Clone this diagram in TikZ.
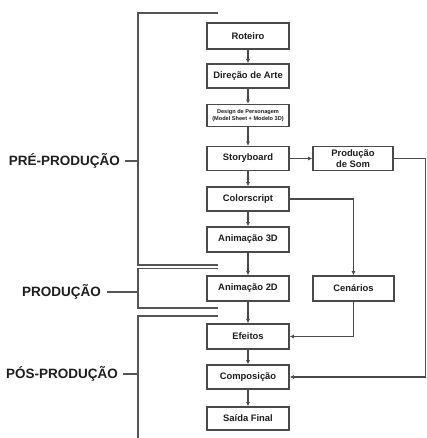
\documentclass[tikz,border=0pt]{standalone}
\usepackage{fontspec}
\setmainfont{Liberation Sans}
\usetikzlibrary{arrows.meta}
\definecolor{boxline}{HTML}{4A4A4A}
\definecolor{brk}{HTML}{555555}
\definecolor{txt}{HTML}{1E1E1E}
\tikzset{
  stage/.style={draw=boxline, line width=1.6pt, fill=white, text=txt,
    font=\fontsize{9.4}{11}\selectfont\bfseries, align=center,
    minimum width=82pt, minimum height=24pt, inner sep=1pt},
  flow/.style={draw=boxline, line width=1.3pt, -{Latex[length=4pt,width=4pt]}},
  bracket/.style={draw=brk, line width=1.8pt},
  phase/.style={text=txt, font=\fontsize{13.5}{15}\selectfont\bfseries, anchor=east, inner sep=0pt}
}
\begin{document}
\begin{tikzpicture}[x=1pt,y=-1pt]
\useasboundingbox[fill=white] (0,0) rectangle (427,438);
% main column
\node[stage, minimum height=26pt] (rot) at (248,36) {Roteiro};
\node[stage] (dir) at (248,76) {Direção de Arte};
\node[stage, minimum height=22pt, font=\fontsize{5.6}{6.6}\selectfont\bfseries] (des) at (248,115.5) {Design de Personagem\\(Model Sheet + Modelo 3D)};
\node[stage] (sto) at (248,158.5) {Storyboard};
\node[stage] (col) at (248,199) {Colorscript};
\node[stage, minimum height=25pt] (a3d) at (248,239.5) {Animação 3D};
\node[stage, minimum height=25pt] (a2d) at (248,288.5) {Animação 2D};
\node[stage, minimum height=25pt] (efe) at (248,336.5) {Efeitos};
\node[stage] (com) at (248,377) {Composição};
\node[stage, minimum height=23pt] (sai) at (248,418.5) {Saída Final};
% side column
\node[stage, minimum width=80pt] (som) at (353,158.5) {Produção\\de Som};
\node[stage, minimum width=81pt, minimum height=25pt] (cen) at (353.5,288.5) {Cenários};
% flow
\draw[flow] (rot) -- (dir);
\draw[flow] (dir) -- (des);
\draw[flow] (des) -- (sto);
\draw[flow] (sto) -- (col);
\draw[flow] (col) -- (a3d);
\draw[flow] (a3d) -- (a2d);
\draw[flow] (a2d) -- (efe);
\draw[flow] (efe) -- (com);
\draw[flow] (com) -- (sai);
\draw[flow] (sto) -- (som);
\draw[flow] (col.east) -| (cen.north);
\draw[flow] (cen.south) |- (efe.east);
\draw[flow] (som.east) -- ++(32,0) |- (com.east);
% phase brackets
\draw[bracket] (218,13) -- (138,13) -- (138,265) -- (218,265);
\draw[bracket] (218,268.5) -- (138,268.5) -- (138,308) -- (218,308);
\draw[bracket] (218,316) -- (138,316) -- (138,438);
\node[phase] (pre) at (120,161) {PRÉ-PRODUÇÃO};
\node[phase] (pro) at (101,292) {PRODUÇÃO};
\node[phase] (pos) at (118,374) {PÓS-PRODUÇÃO};
\draw[bracket, line width=1.3pt] (pre.east) ++(5,0) -- (138,161);
\draw[bracket, line width=1.3pt] (pro.east) ++(6,0) -- (138,292);
\draw[bracket, line width=1.3pt] (pos.east) ++(5,0) -- (138,374);
\end{tikzpicture}
\end{document}
